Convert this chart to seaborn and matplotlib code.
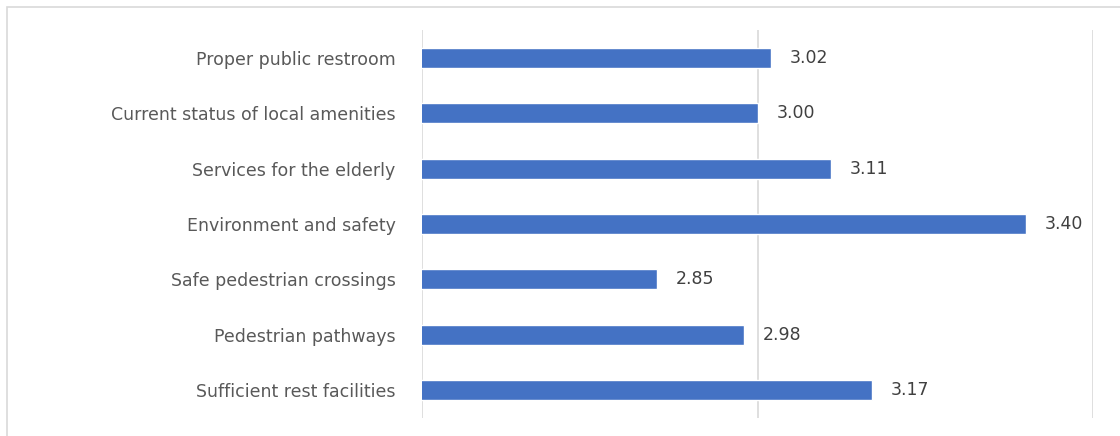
import matplotlib
matplotlib.use("Agg")
import matplotlib.pyplot as plt
import seaborn as sns
import pandas as pd
from matplotlib.patches import Rectangle

# data, top to bottom as in the chart
categories = [
    "Proper public restroom",
    "Current status of local amenities",
    "Services for the elderly",
    "Environment and safety",
    "Safe pedestrian crossings",
    "Pedestrian pathways",
    "Sufficient rest facilities",
]
scores = [3.02, 3.00, 3.11, 3.40, 2.85, 2.98, 3.17]
x_ticks = [2.5, 3.0, 3.5]

df = pd.DataFrame({"item": categories, "score": scores})

sns.set_style("white")
plt.rcParams["font.family"] = ["DejaVu Sans"]

fig = plt.figure(figsize=(11.2, 4.36), dpi=100)
ax = fig.add_axes([422 / 1120, 1 - 418 / 436, (1093 - 422) / 1120, (418 - 30) / 436])

sns.barplot(data=df, x="score", y="item", orient="h", color="#4472C4",
            saturation=1, width=0.36, ax=ax)

ax.set_xlim(2.5, 3.5)
ax.set_xticks(x_ticks)
ax.set_xticklabels([])
ax.tick_params(axis="x", length=0)
ax.tick_params(axis="y", length=0, pad=19, labelsize=12.5, labelcolor="#595959")
ax.grid(axis="x", color="#D9D9D9", linewidth=1.2)
ax.set_axisbelow(True)
for s in ax.spines.values():
    s.set_visible(False)
ax.set_xlabel("")
ax.set_ylabel("")

# value labels
for i, v in enumerate(scores):
    ax.text(v + 0.028, i, f"{v:.2f}", va="center", ha="left",
            fontsize=12.5, color="#404040")

# light chart border
fig.patches.append(Rectangle((7 / 1120, -0.2), 1.2, 1.2 - 7 / 436,
                             transform=fig.transFigure, fill=False,
                             edgecolor="#D9D9D9", linewidth=1.2))

fig.savefig("out.png", dpi=100)
